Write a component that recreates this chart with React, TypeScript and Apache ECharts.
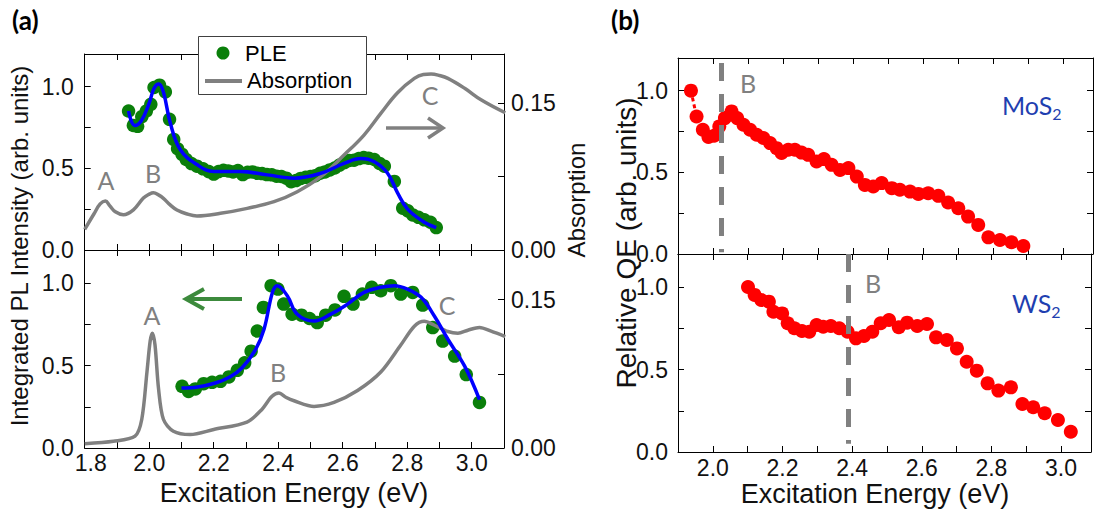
import React, { useEffect, useRef } from "react";
import * as echarts from "echarts";

// ---------- data (energies in eV) ----------
// Panel (a), top: MoS2 PLE (normalized integrated PL intensity)
const pleMoS2: [number, number][] = [
  [1.936, 0.851], [1.951, 0.763], [1.964, 0.757], [1.977, 0.816], [1.991, 0.851],
  [2.005, 0.892], [2.015, 0.995], [2.032, 1.009], [2.05, 0.968], [2.063, 0.8],
  [2.076, 0.677], [2.088, 0.62], [2.102, 0.585], [2.115, 0.554], [2.131, 0.529],
  [2.148, 0.513], [2.167, 0.497], [2.185, 0.48], [2.2, 0.465], [2.215, 0.48],
  [2.23, 0.488], [2.245, 0.484], [2.26, 0.478], [2.275, 0.486], [2.29, 0.462],
  [2.305, 0.476], [2.32, 0.478], [2.335, 0.47], [2.35, 0.468], [2.365, 0.462],
  [2.38, 0.46], [2.395, 0.452], [2.41, 0.45], [2.425, 0.44], [2.44, 0.418],
  [2.455, 0.425], [2.47, 0.438], [2.485, 0.445], [2.5, 0.45], [2.515, 0.455],
  [2.53, 0.47], [2.545, 0.478], [2.56, 0.49], [2.575, 0.502], [2.59, 0.52],
  [2.605, 0.535], [2.62, 0.548], [2.635, 0.55], [2.65, 0.56], [2.665, 0.566],
  [2.68, 0.562], [2.698, 0.554], [2.714, 0.53], [2.729, 0.513], [2.76, 0.42],
  [2.786, 0.256], [2.802, 0.24], [2.817, 0.215], [2.835, 0.2], [2.853, 0.185],
  [2.872, 0.17], [2.89, 0.137]
];
const fitMoS2: [number, number][] = [
  [1.936, 0.851], [1.955, 0.763], [1.975, 0.79], [2.0, 0.9], [2.015, 0.99],
  [2.03, 1.017], [2.045, 0.96], [2.065, 0.78], [2.096, 0.615], [2.148, 0.523],
  [2.2, 0.48], [2.283, 0.48], [2.366, 0.46], [2.449, 0.44], [2.532, 0.47],
  [2.604, 0.53], [2.656, 0.56], [2.698, 0.54], [2.739, 0.47], [2.77, 0.35],
  [2.801, 0.25], [2.853, 0.17], [2.89, 0.137]
];
const absMoS2: [number, number][] = [
  [1.8, 0.021], [1.829, 0.037], [1.848, 0.047], [1.864, 0.05], [1.878, 0.045],
  [1.895, 0.039], [1.92, 0.036], [1.951, 0.041], [1.982, 0.053], [2.0, 0.057],
  [2.013, 0.0585], [2.03, 0.056], [2.044, 0.0527], [2.065, 0.046], [2.086, 0.0408],
  [2.115, 0.037], [2.148, 0.0347], [2.221, 0.0374], [2.304, 0.0425], [2.387, 0.0493],
  [2.459, 0.0595], [2.532, 0.0748], [2.604, 0.0969], [2.666, 0.1173], [2.718, 0.1394],
  [2.77, 0.1605], [2.822, 0.1751], [2.85, 0.179], [2.874, 0.1795], [2.9, 0.178],
  [2.926, 0.1751], [2.978, 0.165], [3.03, 0.153], [3.104, 0.14]
];

// Panel (a), bottom: WS2
const pleWS2: [number, number][] = [
  [2.102, 0.374], [2.122, 0.343], [2.143, 0.358], [2.169, 0.39], [2.195, 0.398],
  [2.221, 0.404], [2.247, 0.431], [2.273, 0.471], [2.296, 0.516], [2.316, 0.587],
  [2.335, 0.709], [2.354, 0.852], [2.378, 0.984], [2.399, 0.963], [2.417, 0.872],
  [2.443, 0.811], [2.472, 0.805], [2.497, 0.785], [2.521, 0.76], [2.547, 0.805],
  [2.576, 0.837], [2.604, 0.919], [2.632, 0.872], [2.661, 0.933], [2.69, 0.974],
  [2.718, 0.953], [2.749, 0.984], [2.78, 0.933], [2.817, 0.943], [2.848, 0.866],
  [2.879, 0.73], [2.91, 0.648], [2.947, 0.557], [2.983, 0.445], [3.024, 0.276]
];
const fitWS2: [number, number][] = [
  [2.1, 0.364], [2.15, 0.37], [2.205, 0.394], [2.25, 0.43], [2.288, 0.486],
  [2.33, 0.598], [2.356, 0.72], [2.382, 0.943], [2.397, 0.984], [2.428, 0.923],
  [2.459, 0.811], [2.511, 0.77], [2.563, 0.811], [2.615, 0.872], [2.666, 0.943],
  [2.718, 0.974], [2.76, 0.984], [2.801, 0.963], [2.843, 0.913], [2.884, 0.8],
  [2.926, 0.659], [2.978, 0.496], [3.024, 0.293]
];
const absWS2: [number, number][] = [
  [1.8, 0.0044], [1.889, 0.0068], [1.956, 0.0119], [1.977, 0.029], [1.993, 0.0767],
  [2.003, 0.108], [2.01, 0.116], [2.018, 0.104], [2.029, 0.0597], [2.044, 0.029],
  [2.075, 0.017], [2.127, 0.0136], [2.2, 0.0187], [2.303, 0.0262], [2.35, 0.0392],
  [2.38, 0.052], [2.402, 0.0556], [2.425, 0.051], [2.449, 0.0477], [2.511, 0.042],
  [2.573, 0.046], [2.646, 0.058], [2.718, 0.0767], [2.78, 0.104], [2.822, 0.123],
  [2.853, 0.128], [2.884, 0.124], [2.926, 0.1177], [2.957, 0.116], [2.988, 0.119],
  [3.024, 0.1218], [3.06, 0.118], [3.104, 0.1126]
];

// Panel (b): relative quantum efficiency
const qeMoS2: [number, number][] = [
  [1.937, 1.0], [1.953, 0.842], [1.971, 0.761], [1.987, 0.716], [2.003, 0.724],
  [2.018, 0.781], [2.034, 0.832], [2.053, 0.873], [2.069, 0.832], [2.087, 0.791],
  [2.106, 0.761], [2.125, 0.73], [2.144, 0.71], [2.163, 0.679], [2.182, 0.648],
  [2.196, 0.618], [2.215, 0.638], [2.234, 0.638], [2.253, 0.621], [2.272, 0.607],
  [2.296, 0.566], [2.317, 0.581], [2.339, 0.546], [2.363, 0.515], [2.387, 0.526],
  [2.411, 0.474], [2.434, 0.423], [2.458, 0.413], [2.482, 0.434], [2.511, 0.403],
  [2.534, 0.393], [2.563, 0.382], [2.587, 0.368], [2.615, 0.372], [2.644, 0.356],
  [2.672, 0.315], [2.701, 0.28], [2.729, 0.229], [2.758, 0.178], [2.787, 0.102],
  [2.82, 0.086], [2.853, 0.072], [2.887, 0.049]
];
const qeWS2: [number, number][] = [
  [2.101, 1.0], [2.12, 0.952], [2.139, 0.921], [2.161, 0.911], [2.174, 0.85],
  [2.199, 0.84], [2.215, 0.78], [2.234, 0.75], [2.256, 0.733], [2.277, 0.729],
  [2.298, 0.77], [2.317, 0.759], [2.339, 0.764], [2.363, 0.75], [2.387, 0.729],
  [2.411, 0.689], [2.434, 0.703], [2.458, 0.729], [2.482, 0.78], [2.506, 0.8],
  [2.534, 0.756], [2.558, 0.784], [2.587, 0.764], [2.615, 0.776], [2.641, 0.695],
  [2.672, 0.679], [2.701, 0.628], [2.729, 0.547], [2.758, 0.493], [2.789, 0.416],
  [2.82, 0.372], [2.856, 0.392], [2.889, 0.291], [2.92, 0.271], [2.953, 0.235],
  [2.991, 0.194], [3.028, 0.123]
];
const bPeakMoS2 = 2.025;
const bPeakWS2 = 2.39;

const rangeA: [number, number] = [1.8, 3.1];
const rangeB: [number, number] = [1.9, 3.086];
const intensityLabels = ["0.0", "0.5", "1.0"];
const absorptionLabels = ["0.00", "0.15"];

// ---------- styling ----------
const SANS = "'Liberation Sans', Arial, sans-serif";
const CAL = "Lato, 'Open Sans', sans-serif";
const GREEN = "#0a7f0a";
const BLUE = "#0000ff";
const GRAY = "#808080";
const RED = "#ff0000";
const TICK_FONT = 23;

const xFmt = (v: number) => {
  const k = Math.round(v * 10);
  if (Math.abs(v * 10 - k) > 1e-4 || k % 2 !== 0) return "";
  return (k / 10).toFixed(1);
};
// first label of panel (a) nudged right so it clears the "0.0" above it
const xFmtA = (v: number) => {
  const s = xFmt(v);
  return Math.abs(v - rangeA[0]) < 1e-6 && s ? `{first|${s}}` : s;
};
const yFmt = (v: number) => {
  const s = v.toFixed(1);
  return intensityLabels.includes(s) && Math.abs(v * 2 - Math.round(v * 2)) < 1e-6 ? s : "";
};
const absFmt = (v: number) => {
  const s = v.toFixed(2);
  return absorptionLabels.includes(s) && (Math.abs(v) < 1e-6 || Math.abs(v - 0.15) < 1e-6) ? s : "";
};

function xAxis(grid: number, range: [number, number], position: string, labels: boolean, margin = 6, fmt = xFmt) {
  return {
    type: "value",
    gridIndex: grid,
    min: range[0],
    max: range[1],
    interval: 0.1,
    position,
    axisLine: { show: true, onZero: false, lineStyle: { color: "#000", width: 1 } },
    axisTick: { show: true, inside: true, length: 6, lineStyle: { color: "#000", width: 1 } },
    axisLabel: {
      show: labels,
      formatter: fmt,
      fontSize: TICK_FONT,
      fontFamily: SANS,
      color: "#111",
      margin,
      showMinLabel: true,
      showMaxLabel: true,
      hideOverlap: false,
      rich: { first: { fontSize: TICK_FONT, fontFamily: SANS, color: "#111", padding: [0, 0, 0, 12] } },
    },
    splitLine: { show: false },
  };
}
function yAxis(grid: number, position: string, labels: boolean, margin = 8) {
  return {
    type: "value",
    gridIndex: grid,
    min: 0,
    max: 1.2,
    interval: 0.25,
    position,
    axisLine: { show: true, onZero: false, lineStyle: { color: "#000", width: 1 } },
    axisTick: { show: true, inside: true, length: 6, lineStyle: { color: "#000", width: 1 } },
    axisLabel: { show: labels, formatter: yFmt, fontSize: TICK_FONT, fontFamily: SANS, color: "#111", margin, showMaxLabel: true, showMinLabel: true },
    splitLine: { show: false },
  };
}
function absAxis(grid: number) {
  return {
    type: "value",
    gridIndex: grid,
    min: 0,
    max: 0.2,
    interval: 0.075,
    position: "right",
    axisLine: { show: true, onZero: false, lineStyle: { color: "#000", width: 1 } },
    axisTick: { show: true, inside: true, length: 6, lineStyle: { color: "#000", width: 1 } },
    axisLabel: { formatter: absFmt, fontSize: TICK_FONT, fontFamily: SANS, color: "#111", margin: 7, showMaxLabel: true, showMinLabel: true },
    splitLine: { show: false },
  };
}

const ann = (text: string, x: number, y: number, color = GRAY, size = 25) => ({
  type: "text",
  x,
  y,
  z: 50,
  style: { text, fill: color, font: `${size}px ${CAL}`, align: "center", verticalAlign: "middle" },
});
const vText = (text: string, x: number, y: number, size: number) => ({
  type: "text",
  x,
  y,
  rotation: Math.PI / 2,
  z: 50,
  style: { text, fill: "#111", font: `${size}px ${SANS}`, align: "center", verticalAlign: "middle" },
});
const hName = (text: string, x: number, y: number) => ({
  type: "text",
  x,
  y,
  z: 50,
  style: { text, fill: "#111", font: `27px ${SANS}`, align: "center", verticalAlign: "middle" },
});

export default function App() {
  const ref = useRef<HTMLDivElement>(null);
  useEffect(() => {
    if (!ref.current) return;
    const chart = echarts.init(ref.current, undefined, { renderer: "svg" });
    const option: any = {
      animation: false,
      backgroundColor: "#fff",
      grid: [
        { left: 84.7, top: 54, width: 419.3, height: 196 },
        { left: 84.7, top: 250, width: 419.3, height: 198 },
        { left: 678, top: 58, width: 415, height: 196 },
        { left: 678, top: 254, width: 415, height: 198 },
      ],
      xAxis: [
        xAxis(0, rangeA, "bottom", false),
        xAxis(0, rangeA, "top", false),
        xAxis(1, rangeA, "bottom", true, 3, xFmtA),
        xAxis(1, rangeA, "top", false),
        xAxis(2, rangeB, "bottom", false),
        xAxis(2, rangeB, "top", false),
        xAxis(3, rangeB, "bottom", true, 4),
        xAxis(3, rangeB, "top", false),
      ],
      yAxis: [
        yAxis(0, "left", true, 11),
        absAxis(0),
        yAxis(1, "left", true, 11),
        absAxis(1),
        yAxis(2, "left", true, 10),
        yAxis(2, "right", false),
        yAxis(3, "left", true, 10),
        yAxis(3, "right", false),
      ],
      series: [
        { name: "PLE", type: "scatter", xAxisIndex: 0, yAxisIndex: 0, data: pleMoS2, symbolSize: 13.5, itemStyle: { color: GREEN, opacity: 1 }, z: 2 },
        { name: "Absorption", type: "line", xAxisIndex: 0, yAxisIndex: 1, data: absMoS2, smooth: 0.4, showSymbol: false, lineStyle: { color: GRAY, width: 3.5 }, z: 3 },
        { name: "Fit", type: "line", xAxisIndex: 0, yAxisIndex: 0, data: fitMoS2, smooth: 0.4, showSymbol: false, lineStyle: { color: BLUE, width: 3.5 }, z: 4 },
        { name: "PLE WS2", type: "scatter", xAxisIndex: 2, yAxisIndex: 2, data: pleWS2, symbolSize: 13.5, itemStyle: { color: GREEN, opacity: 1 }, z: 2 },
        { name: "Absorption WS2", type: "line", xAxisIndex: 2, yAxisIndex: 3, data: absWS2, smooth: 0.3, showSymbol: false, lineStyle: { color: GRAY, width: 3.5 }, z: 3 },
        { name: "Fit WS2", type: "line", xAxisIndex: 2, yAxisIndex: 2, data: fitWS2, smooth: 0.4, showSymbol: false, lineStyle: { color: BLUE, width: 3.5 }, z: 4 },
        {
          name: "QE MoS2 link", type: "line", xAxisIndex: 4, yAxisIndex: 4, data: qeMoS2.slice(0, 2), showSymbol: false,
          lineStyle: { color: RED, width: 3, type: [4, 3] }, z: 2,
        },
        {
          name: "QE MoS2", type: "scatter", xAxisIndex: 4, yAxisIndex: 4, data: qeMoS2, symbolSize: 14, itemStyle: { color: RED, opacity: 1 }, z: 3,
          markLine: {
            silent: true, symbol: ["none", "none"], label: { show: false },
            lineStyle: { color: GRAY, width: 5, type: [18, 13] },
            data: [[{ coord: [bPeakMoS2, 1.17] }, { coord: [bPeakMoS2, 0.01] }]],
          },
        },
        {
          name: "QE WS2", type: "scatter", xAxisIndex: 6, yAxisIndex: 6, data: qeWS2, symbolSize: 14, itemStyle: { color: RED, opacity: 1 }, z: 3,
          markLine: {
            silent: true, symbol: ["none", "none"], label: { show: false },
            lineStyle: { color: GRAY, width: 5, type: [18, 13] },
            data: [[{ coord: [bPeakWS2, 1.2] }, { coord: [bPeakWS2, 0.05] }]],
          },
        },
      ],
      graphic: [
        { type: "text", x: 12, y: 7, z: 50, style: { text: "(a)", fill: "#000", font: `bold 26px ${CAL}` } },
        { type: "text", x: 611, y: 7, z: 50, style: { text: "(b)", fill: "#000", font: `bold 26px ${CAL}` } },
        vText("Integrated PL Intensity (arb. units)", 19, 246, 24),
        vText("Absorption", 576, 200, 24),
        vText("Relative QE (arb. units)", 626, 243, 28),
        hName("Excitation Energy (eV)", 294, 493),
        hName("Excitation Energy (eV)", 875, 494),
        ann("A", 106, 180), ann("B", 153, 173), ann("C", 430, 95),
        ann("A", 152, 315), ann("B", 278, 372), ann("C", 447, 305),
        ann("B", 748, 83), ann("B", 873, 283),
        {
          type: "text", x: 1002, y: 105, z: 50,
          style: {
            text: "{a|MoS}{b|2}", fill: "#1f3fb0", verticalAlign: "middle",
            rich: { a: { fontSize: 25, fontFamily: CAL, fill: "#1f3fb0" }, b: { fontSize: 16, fontFamily: CAL, fill: "#1f3fb0", padding: [16, 0, 0, 0] } },
          },
        },
        {
          type: "text", x: 1012, y: 303, z: 50,
          style: {
            text: "{a|WS}{b|2}", fill: "#1f3fb0", verticalAlign: "middle",
            rich: { a: { fontSize: 25, fontFamily: CAL, fill: "#1f3fb0" }, b: { fontSize: 16, fontFamily: CAL, fill: "#1f3fb0", padding: [16, 0, 0, 0] } },
          },
        },
        // arrows
        { type: "line", z: 50, shape: { x1: 386, y1: 128, x2: 442, y2: 128 }, style: { stroke: GRAY, lineWidth: 3.5 } },
        { type: "polyline", z: 50, shape: { points: [[428, 118], [443, 128], [428, 138]] }, style: { stroke: GRAY, lineWidth: 3.5, fill: "none" } },
        { type: "line", z: 50, shape: { x1: 242, y1: 299, x2: 187, y2: 299 }, style: { stroke: "#3c8a3c", lineWidth: 4 } },
        { type: "polyline", z: 50, shape: { points: [[204, 289], [186, 299], [204, 309]] }, style: { stroke: "#3c8a3c", lineWidth: 4, fill: "none" } },
        // legend
        {
          type: "group", z: 100,
          children: [
            { type: "rect", z: 100, shape: { x: 198.5, y: 36.5, width: 168, height: 58 }, style: { fill: "#fff", stroke: "#404040", lineWidth: 1 } },
            { type: "circle", z: 101, shape: { cx: 223, cy: 53, r: 6.5 }, style: { fill: GREEN } },
            { type: "text", z: 101, x: 245, y: 53, style: { text: "PLE", fill: "#000", font: `22px ${SANS}`, verticalAlign: "middle" } },
            { type: "line", z: 101, shape: { x1: 205, y1: 81, x2: 242, y2: 81 }, style: { stroke: GRAY, lineWidth: 4 } },
            { type: "text", z: 101, x: 247, y: 80, style: { text: "Absorption", fill: "#000", font: `22px ${SANS}`, verticalAlign: "middle" } },
          ],
        },
      ],
    };
    chart.setOption(option);
    return () => chart.dispose();
  }, []);
  return <div ref={ref} style={{ position: "fixed", left: 0, top: 0, width: 1094, height: 512, background: "#fff" }} />;
}
